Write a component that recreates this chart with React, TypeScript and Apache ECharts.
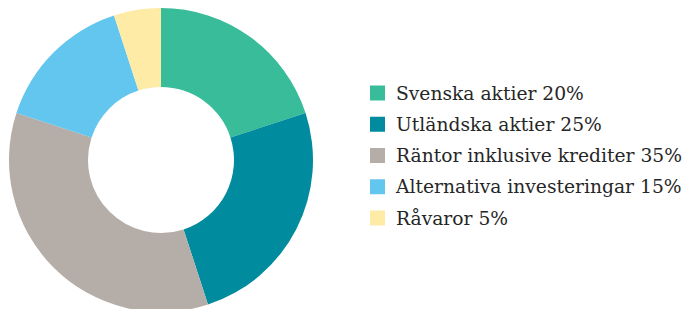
import React, { useEffect, useRef } from "react";
import * as echarts from "echarts";

const categories = [
  "Svenska aktier 20%",
  "Utländska aktier 25%",
  "Räntor inklusive krediter 35%",
  "Alternativa investeringar 15%",
  "Råvaror 5%",
];
const values = [20, 25, 35, 15, 5];
const colors = ["#38bc9a", "#008b9e", "#b5ada8", "#63c6ee", "#feeba5"];

export default function App() {
  const ref = useRef<HTMLDivElement>(null);
  useEffect(() => {
    if (!ref.current) return;
    const chart = echarts.init(ref.current, null, { renderer: "svg" });
    chart.setOption({
      animation: false,
      color: colors,
      legend: {
        orient: "vertical",
        left: 370,
        top: 83.5,
        padding: 0,
        itemWidth: 15,
        itemHeight: 15,
        itemGap: 12.25,
        icon: "rect",
        selectedMode: false,
        textStyle: {
          fontFamily: "'DejaVu Serif', serif",
          fontSize: 18.7,
          lineHeight: 18,
          color: "#262626",
          padding: [0, 0, 0, 6],
        },
        data: categories,
      },
      series: [
        {
          type: "pie",
          center: [161, 160],
          radius: [73, 152],
          startAngle: 90,
          clockwise: true,
          label: { show: false },
          labelLine: { show: false },
          emphasis: { disabled: true },
          itemStyle: { borderWidth: 0 },
          data: categories.map((n, i) => ({ name: n, value: values[i] })),
        },
      ],
    });
    return () => chart.dispose();
  }, []);
  return (
    <div
      ref={ref}
      style={{ position: "fixed", left: 0, top: 0, width: 686, height: 309, background: "#fff" }}
    />
  );
}
